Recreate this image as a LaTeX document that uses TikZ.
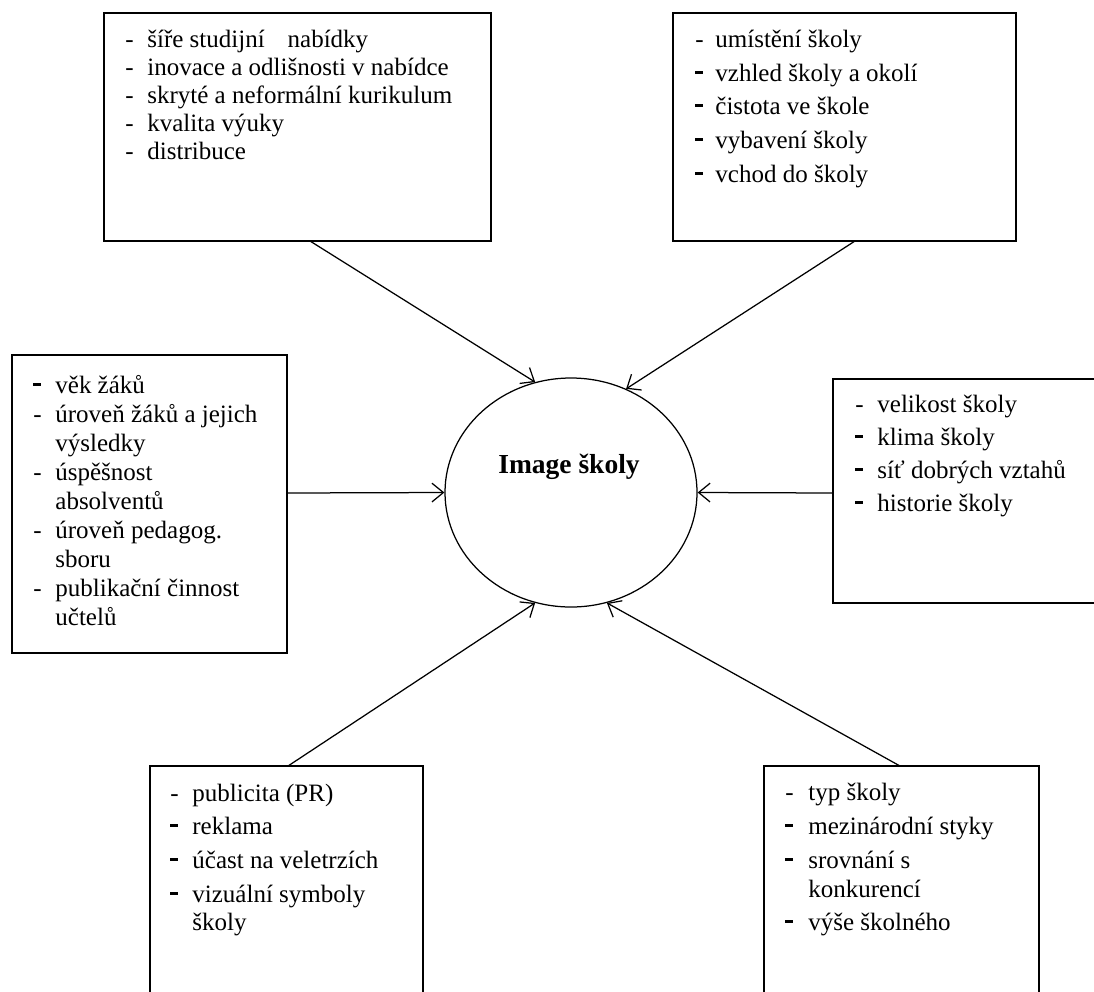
\documentclass[tikz,border=0pt]{standalone}
\usepackage{fontspec}
\setmainfont{Liberation Serif}
\usetikzlibrary{shapes.geometric,fit,calc,arrows.meta}
\newcommand{\dn}{-}
\newcommand{\db}{\rule[3.5pt]{3.7pt}{1.3pt}}
\begin{document}
\begin{tikzpicture}[x=0.48pt,y=-0.48pt,
  box/.style={draw,line width=0.7pt,rectangle,inner sep=0pt,outer sep=0pt},
  ln/.style={anchor=base west,inner sep=0pt,font=\fontsize{12pt}{14pt}\selectfont},
  arr/.style={line width=0.6pt,-{Straight Barb[length=5.5pt,width=9pt]}},
  hub/.style={draw,line width=0.6pt,ellipse,inner sep=0pt,minimum width=120.96pt,minimum height=109.92pt}]
\useasboundingbox (0,0) rectangle (1094,991);
% boxes
\node[box,fit={(104,13) (491,241)}] (tl) {};
\node[box,fit={(673,13) (1016,241)}] (tr) {};
\node[box,fit={(12,355) (287,653)}] (lb) {};
\node[box,fit={(833,379) (1110,603)}] (rb) {};
\node[box,fit={(150,766) (423,1010)}] (bl) {};
\node[box,fit={(764,766) (1039,1010)}] (br) {};
% hub
\node[hub] (img) at (571,492.5) {};
\node[anchor=base,inner sep=0pt,font=\fontsize{13.2pt}{15pt}\selectfont\bfseries] (imgtxt) at (569,473) {Image školy};
% texts
\foreach \yy/\dsh/\txt [count=\i] in {47/\dn/{šíře studijní\hspace{11pt}nabídky},75/\dn/{inovace a odlišnosti v nabídce},103/\dn/{skryté a neformální kurikulum},131/\dn/{kvalita výuky},159/\dn/{distribuce}}
  \node[ln] (tl-\i) at (125,\yy) {\makebox[10.56pt][l]{\dsh}\txt};
\foreach \yy/\dsh/\txt [count=\i] in {47/\dn/{umístění školy},81/\db/{vzhled školy a okolí},114/\db/{čistota ve škole},148/\db/{vybavení školy},182/\db/{vchod do školy}}
  \node[ln] (tr-\i) at (695,\yy) {\makebox[9.6pt][l]{\dsh}\txt};
\foreach \yy/\dsh/\txt [count=\i] in {393/\db/{věk žáků},422/\dn/{úroveň žáků a jejich},451//{výsledky},480/\dn/{úspěšnost},509//{absolventů},538/\dn/{úroveň pedagog.},567//{sboru},596/\dn/{publikační činnost},625//{učtelů}}
  \node[ln] (lb-\i) at (33,\yy) {\makebox[10.56pt][l]{\dsh}\txt};
\foreach \yy/\dsh/\txt [count=\i] in {412/\dn/{velikost školy},445/\db/{klima školy},478/\db/{síť dobrých vztahů},511/\db/{historie školy}}
  \node[ln] (rb-\i) at (855,\yy) {\makebox[10.56pt][l]{\dsh}\txt};
\foreach \yy/\dsh/\txt [count=\i] in {801/\dn/{publicita (PR)},834/\db/{reklama},868/\db/{účast na veletrzích},902/\db/{vizuální symboly},930//{školy}}
  \node[ln] (bl-\i) at (170,\yy) {\makebox[10.56pt][l]{\dsh}\txt};
\foreach \yy/\dsh/\txt [count=\i] in {800/\dn/{typ školy},834/\db/{mezinárodní styky},868/\db/{srovnání s},897//{konkurencí},930/\db/{výše školného}}
  \node[ln] (br-\i) at (785,\yy) {\makebox[11pt][l]{\dsh}\txt};
% connectors
\draw[arr] ($(tl.south west)+(206,0)$) -- (img.108.4);
\draw[arr] ($(tr.south west)+(182,0)$) -- (img.62);
\draw[arr] ($(lb.south east)+(0,-160)$) -- (img.180);
\draw[arr] ($(rb.north west)+(0,114)$) -- (img.0);
\draw[arr] ($(bl.north west)+(138,0)$) -- (img.252.1);
\draw[arr] ($(br.north west)+(136,0)$) -- (img.288.9);
\end{tikzpicture}
\end{document}
